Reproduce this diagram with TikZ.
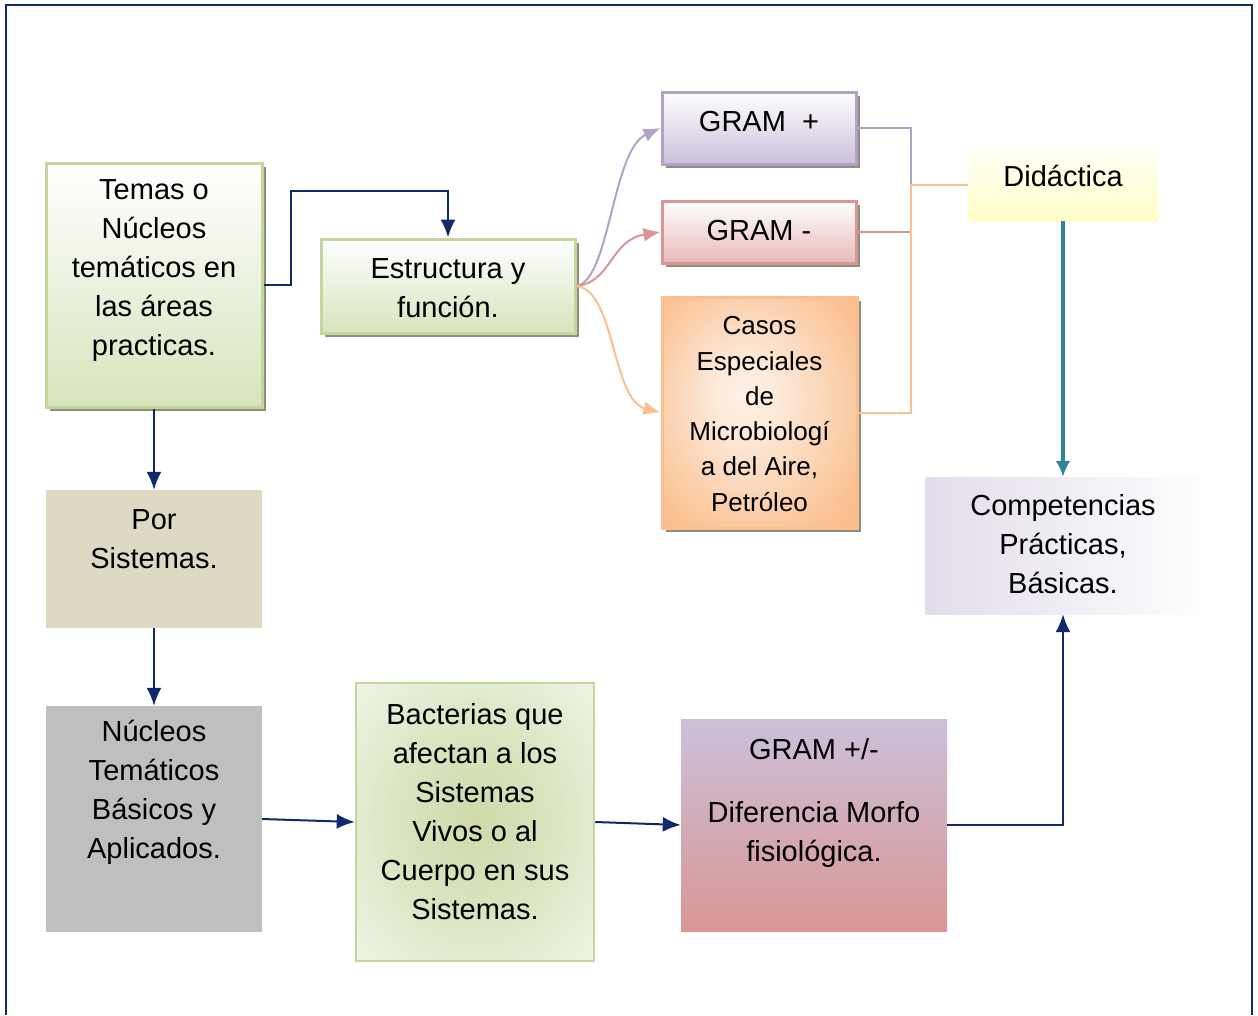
\documentclass[tikz,border=0pt]{standalone}
\usepackage{fontspec}
\setmainfont{Liberation Sans}
\usetikzlibrary{arrows.meta,shadows}
\definecolor{navy}{HTML}{10296B}
\definecolor{tealc}{HTML}{31849B}
\definecolor{purpl}{HTML}{B3A2C7}
\definecolor{purpf}{HTML}{CCC0DA}
\definecolor{redl}{HTML}{D99694}
\definecolor{redf}{HTML}{E6B9B8}
\definecolor{orgl}{HTML}{FAC090}
\definecolor{orgd}{HTML}{F9B680}
\definecolor{orgf}{HTML}{FDEADA}
\definecolor{grnl}{HTML}{C3D69B}
\definecolor{grnf}{HTML}{D7E4BD}
\definecolor{tanf}{HTML}{DDD9C3}
\definecolor{grayf}{HTML}{BFBFBF}
\definecolor{shad}{HTML}{8E8E7C}
\pgfdeclareradialshading{casosshade}{\pgfpoint{-4bp}{4bp}}{%
  color(0bp)=(orgf!70!white); color(8bp)=(orgf); color(20bp)=(orgf!50!orgl); color(32bp)=(orgl); color(50bp)=(orgd)}
\pgfdeclareradialshading{bactshade}{\pgfpoint{0bp}{0bp}}{%
  color(0bp)=(grnf!85!olive!90!white); color(15bp)=(grnf); color(35bp)=(grnf!40!white); color(50bp)=(grnf!22!white); color(80bp)=(grnf!22!white)}
\tikzset{
  boxa/.style={rectangle, inner sep=0pt, draw=none},
  shd/.style={drop shadow={shadow xshift=4pt, shadow yshift=-4pt, fill=shad, opacity=1}},
  txt/.style={align=center, inner sep=0pt, font=\fontsize{29}{39}\selectfont},
  txts/.style={align=center, inner sep=0pt, font=\fontsize{26}{35.3}\selectfont},
  navarr/.style={draw=navy, line width=2pt, -{Latex[length=18pt,width=15pt]}},
  conn/.style={line width=2pt}
}
\begin{document}
\begin{tikzpicture}[x=1pt,y=-1pt]
\useasboundingbox (0,0) rectangle (1258,1015);
% frame
\draw[navy, line width=2.8pt] (6,1015) -- (6,5) -- (1252,5) -- (1252,1015);

% boxes
\node[boxa, shd, draw=grnl, line width=3pt, top color=white, bottom color=grnf,
      minimum width=216pt, minimum height=244pt] (temas) at (154,285) {};
\node[boxa, shd, draw=grnl, line width=3pt, top color=white, bottom color=grnf,
      minimum width=254pt, minimum height=94pt] (estr) at (448,286) {};
\node[boxa, shd, draw=purpl, line width=3pt, top color=white, bottom color=purpf,
      minimum width=194pt, minimum height=72pt] (gp) at (759,128) {};
\node[boxa, shd, draw=redl, line width=3pt, top color=white, bottom color=redf,
      minimum width=194pt, minimum height=62pt] (gm) at (759,232) {};
\node[boxa, shd, draw=orgl, line width=3pt, shading=casosshade,
      minimum width=195pt, minimum height=231pt] (casos) at (759.5,412.5) {};
\node[boxa, top color=white!60!yellow!8, bottom color=yellow!22,
      minimum width=190pt, minimum height=73pt] (did) at (1063,184.5) {};
\node[boxa, left color=purpf!55, right color=white!97!purpf,
      minimum width=275pt, minimum height=137pt] (comp) at (1063,545.5) {};
\node[boxa, fill=tanf, minimum width=216pt, minimum height=138pt] (por) at (154,559) {};
\node[boxa, fill=grayf, minimum width=216pt, minimum height=226pt] (nuc) at (154,819) {};
\node[boxa, draw=grnl, line width=2.5pt, shading=bactshade,
      minimum width=238pt, minimum height=278pt] (bact) at (475,822) {};
\node[boxa, top color=purpf, bottom color=redl,
      minimum width=266pt, minimum height=212pt] (gpm) at (814,825) {};

% texts
\node[txt] (temas-t) at (154,271) {Temas o\\Núcleos\\temáticos en\\las áreas\\practicas.};
\node[txt] (estr-t) at (448,288) {Estructura y\\función.};
\node[txt] (gp-t) at (759,122) {GRAM\ \ +};
\node[txt] (gm-t) at (759,231) {GRAM -};
\node[txts] (casos-t) at (759.5,414) {Casos\\Especiales\\de\\Microbiologí\\a del Aire,\\Petróleo};
\node[txt] (did-t) at (1063,176) {Didáctica};
\node[txt] (comp-t) at (1063,544) {Competencias\\Prácticas,\\Básicas.};
\node[txt] (por-t) at (154,539) {Por\\Sistemas.};
\node[txt] (nuc-t) at (154,792) {Núcleos\\Temáticos\\Básicos y\\Aplicados.};
\node[txt] (bact-t) at (475,812) {Bacterias que\\afectan a los\\Sistemas\\Vivos o al\\Cuerpo en sus\\Sistemas.};
\node[txt] (gpm-t1) at (814,749) {GRAM +/-};
\node[txt] (gpm-t2) at (814,834) {Diferencia Morfo\\fisiológica.};

% coordinates
\coordinate (ca) at (291,191);
\coordinate (jx) at (911,184.5);

% navy connectors
\draw[navarr] (temas.east) -| (ca) -| (estr.north);
\draw[navarr] (temas.south) -- (por.north);
\draw[navarr] (por.south) -- (nuc.north);
\draw[navarr] (nuc.east) -- (bact.west);
\draw[navarr] (bact.east) -- (gpm.west);
\draw[navarr] (gpm.east) -| (comp.south);
\draw[draw=tealc, line width=4.5pt, -{Latex[length=16pt,width=15pt]}] (did.south) -- (comp.north);

% curved colored arrows
\draw[purpl, conn, -{Latex[length=17pt,width=14pt]}] (estr.east) .. controls (610,280) and (612,150) .. (gp.west);
\draw[redl, conn, -{Latex[length=17pt,width=14pt]}] (estr.east) .. controls (612,282) and (610,240) .. (gm.west);
\draw[orgl, conn, -{Latex[length=17pt,width=14pt]}] (estr.east) .. controls (615,290) and (612,400) .. (casos.west);

% bracket to Didactica
\draw[purpl, conn] (gp.east) -| (jx);
\draw[redl, conn] (gm.east) -- (gm.east -| jx);
\draw[orgl, conn] (casos.east) -| (jx) -- (did.west);
\end{tikzpicture}
\end{document}
